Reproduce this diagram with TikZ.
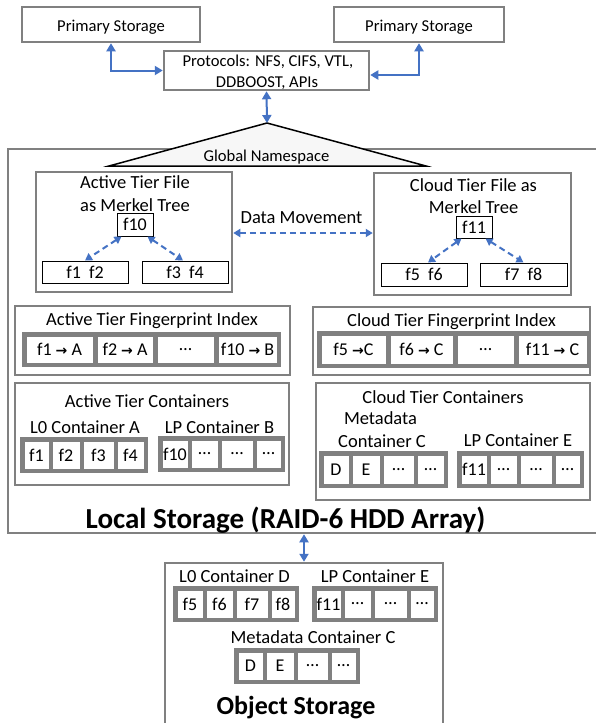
\documentclass[tikz,border=0pt]{standalone}
\usepackage{fontspec}
\setmainfont{Carlito}
\newfontfamily\arrfont{DejaVu Sans}
\usetikzlibrary{arrows.meta}
\definecolor{gr}{RGB}{128,128,128}
\definecolor{bl}{RGB}{68,114,196}
\newcommand\rar{{\arrfont\bfseries\fontsize{14}{14}\selectfont →}}
\newcommand\bx[7]{\node[#2,minimum width={(#5)-(#3)},minimum height={(#6)-(#4)}] (#1) at ({((#3)+(#5))/2},{((#4)+(#6))/2}) {#7};}
\tikzset{
  gbox/.style={draw=gr,line width=2.5pt,fill=white,inner sep=0pt},
  tbox/.style={draw=black,line width=1pt,fill=white,inner sep=0pt,font=\fontsize{18}{20}\selectfont},
  grp/.style={draw=gr,fill=gr,line width=1.2pt,inner sep=0pt},
  cell/.style={draw=gr,fill=white,line width=0.8pt,inner sep=0pt,font=\fontsize{18}{20}\selectfont},
  lbl/.style={inner sep=0pt,anchor=base,font=\fontsize{18.5}{22}\selectfont},
  toplbl/.style={inner sep=0pt,anchor=base,font=\fontsize{16.6}{20}\selectfont},
  barrow/.style={draw=bl,line width=2pt,{Triangle[width=9pt,length=8pt]}-{Triangle[width=9pt,length=8pt]}},
  darrow/.style={draw=bl,line width=2pt,dash pattern=on 6pt off 4pt,{Triangle[width=8pt,length=7pt]}-{Triangle[width=8pt,length=7pt]}},
  title/.style={inner sep=0pt,anchor=base,font=\bfseries\fontsize{29}{32}\selectfont}
}
\begin{document}
\begin{tikzpicture}[x=1pt,y=-1pt]
\useasboundingbox (0,0) rectangle (595,723);
\fill[white] (0,0) rectangle (595,723);
% top
\bx{ps1}{gbox}{22}{7}{200}{42}{}
\node[toplbl] (ps1t) at (111,31) {Primary Storage};
\bx{ps2}{gbox}{334}{7}{504}{42}{}
\node[toplbl] (ps2t) at (419,31) {Primary Storage};
\bx{proto}{gbox}{164}{51}{369}{90}{}
\node[toplbl] (protoa) at (268,66) {Protocols: NFS, CIFS, VTL,};
\node[toplbl] (protob) at (267,87) {DDBOOST, APIs};
% local storage
\bx{ls}{gbox}{8}{149}{600}{533}{}
\coordinate (apex) at (267,123);
\coordinate (tl) at (109,166);
\coordinate (tr) at (426,166);
\draw[black,line width=1.5pt,fill=gray!6] (apex) -- (tl) -- (tr) -- cycle;
\node[toplbl] (gns) at (266.5,161.5) {Global Namespace};
\draw[barrow] (ps1.south) |- (proto.west);
\draw[barrow] (ps2.south) |- ([yshift=-4.5pt]proto.east);
\draw[barrow] (proto.south) -- (apex);
% merkel trees
\bx{atf}{gbox}{36}{172}{232}{292}{}
\node[lbl] (atfa) at (135,188) {Active Tier File};
\node[lbl] (atfb) at (135,211) {as Merkel Tree};
\bx{f10}{tbox}{117}{213}{153}{236}{f10}
\bx{f12}{tbox}{42}{261}{128}{283}{f1\ \ f2}
\bx{f34}{tbox}{142}{261}{228}{283}{f3\ \ f4}
\draw[darrow] ([xshift=5pt]f10.south west) -- (f12.north);
\draw[darrow] ([xshift=-6pt]f10.south east) -- ([xshift=-2pt]f34.north);
\bx{ctf}{gbox}{374}{173}{571}{295}{}
\node[lbl] (ctfa) at (473.5,191) {Cloud Tier File as};
\node[lbl] (ctfb) at (473.5,213) {Merkel Tree};
\bx{f11}{tbox}{456}{216}{492}{238}{f11}
\bx{f56}{tbox}{381}{263}{467}{286}{f5\ \ f6}
\bx{f78}{tbox}{480}{263}{567}{286}{f7\ \ f8}
\draw[darrow] ([xshift=6pt]f11.south west) -- ([xshift=4pt]f56.north);
\draw[darrow] ([xshift=-7pt]f11.south east) -- (f78.north);
\draw[darrow] (atf.east |- 0,233) -- (ctf.west |- 0,233);
\node[lbl] (dm) at (301.5,223) {Data Movement};
% fingerprint indexes
\bx{afi}{gbox}{15}{306}{290}{375}{}
\node[lbl] (afit) at (152,325) {Active Tier Fingerprint Index};
\bx{afig}{grp}{23}{333}{280}{366}{}
\bx{afa}{cell}{26}{336}{93}{363}{f1 \rar{} A}
\bx{afb}{cell}{97}{336}{153}{363}{f2 \rar{} A}
\bx{afc}{cell}{157}{336}{214}{363}{…}
\bx{afd}{cell}{218}{336}{277}{363}{f10 \rar{} B}
\bx{cfi}{gbox}{313}{307}{590}{375}{}
\node[lbl] (cfit) at (451.5,326) {Cloud Tier Fingerprint Index};
\bx{cfig}{grp}{318}{332}{590}{367}{}
\bx{cfa}{cell}{321}{335}{386}{364}{f5 \rar{}C}
\bx{cfb}{cell}{390}{335}{453}{364}{f6 \rar{} C}
\bx{cfc}{cell}{457}{335}{514}{364}{…}
\bx{cfd}{cell}{518}{335}{587}{364}{f11 \rar{} C}
% active containers
\bx{ac}{gbox}{15}{383}{289}{485}{}
\node[lbl] (act) at (147,407) {Active Tier Containers};
\node[lbl] (l0a) at (85,433) {L0 Container A};
\node[lbl] (lpb) at (219.5,433) {LP Container B};
\bx{l0ag}{grp}{21}{438}{147}{472}{}
\bx{l0a1}{cell}{24}{441}{49}{469}{f1}
\bx{l0a2}{cell}{52}{441}{80}{469}{f2}
\bx{l0a3}{cell}{83}{441}{114}{469}{f3}
\bx{l0a4}{cell}{117}{441}{144}{469}{f4}
\bx{lpbg}{grp}{159}{437}{284}{471}{}
\bx{lpb1}{cell}{162}{440}{188}{468}{f10}
\bx{lpb2}{cell}{191}{440}{218}{468}{…}
\bx{lpb3}{cell}{221}{440}{253}{468}{…}
\bx{lpb4}{cell}{256}{440}{281}{468}{…}
% cloud containers
\bx{cc}{gbox}{316}{383}{590}{500}{}
\node[lbl] (cct) at (443,403) {Cloud Tier Containers};
\node[lbl] (mdca) at (380.5,424) {Metadata};
\node[lbl] (mdcb) at (382,447) {Container C};
\node[lbl] (lpe) at (518,446) {LP Container E};
\bx{mcg}{grp}{320}{452}{447}{487}{}
\bx{mc1}{cell}{323}{455}{349}{484}{D}
\bx{mc2}{cell}{352}{455}{380}{484}{E}
\bx{mc3}{cell}{383}{455}{414}{484}{…}
\bx{mc4}{cell}{417}{455}{444}{484}{…}
\bx{lpeg}{grp}{458}{452}{583}{487}{}
\bx{lpe1}{cell}{461}{455}{487}{484}{f11}
\bx{lpe2}{cell}{490}{455}{517}{484}{…}
\bx{lpe3}{cell}{520}{455}{552}{484}{…}
\bx{lpe4}{cell}{555}{455}{580}{484}{…}
\node[title] (lst) at (285.5,528) {Local Storage (RAID-6 HDD Array)};
% object storage
\bx{os}{gbox}{165}{563}{443}{730}{}
\draw[barrow] (ls.south -| os.north) -- (os.north);
\node[lbl] (l0d) at (234.5,582) {L0 Container D};
\node[lbl] (lpe2t) at (375,582) {LP Container E};
\bx{odg}{grp}{174}{587}{298}{621}{}
\bx{od1}{cell}{177}{590}{203}{618}{f5}
\bx{od2}{cell}{206}{590}{233}{618}{f6}
\bx{od3}{cell}{236}{590}{268}{618}{f7}
\bx{od4}{cell}{271}{590}{295}{618}{f8}
\bx{oeg}{grp}{313}{587}{437}{621}{}
\bx{oe1}{cell}{316}{590}{341}{618}{f11}
\bx{oe2}{cell}{344}{590}{371}{618}{…}
\bx{oe3}{cell}{374}{590}{407}{618}{…}
\bx{oe4}{cell}{410}{590}{434}{618}{…}
\node[lbl] (omt) at (313,643) {Metadata Container C};
\bx{omg}{grp}{235}{649}{359}{683}{}
\bx{om1}{cell}{238}{652}{263}{680}{D}
\bx{om2}{cell}{266}{652}{294}{680}{E}
\bx{om3}{cell}{297}{652}{328}{680}{…}
\bx{om4}{cell}{331}{652}{356}{680}{…}
\node[title,font=\bfseries\fontsize{26}{30}\selectfont] (ost) at (296,714) {Object Storage};
\end{tikzpicture}
\end{document}
